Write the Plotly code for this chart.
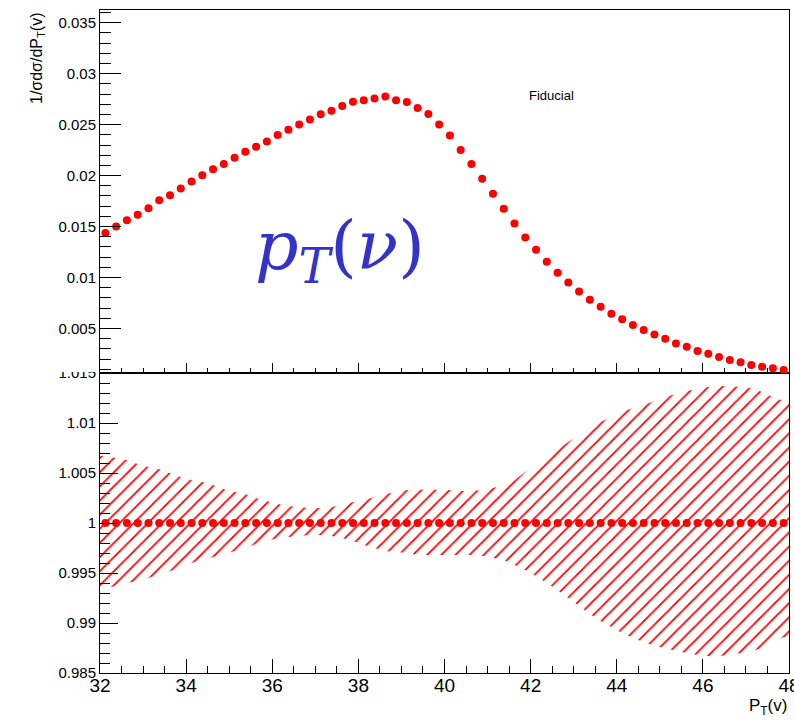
import numpy as np
import plotly.graph_objects as go

# ---- data ----
bin_lo, bin_hi, n_bins = 32.0, 48.0, 64
bin_width = (bin_hi - bin_lo) / n_bins
bin_centers = [bin_lo + bin_width * (i + 0.5) for i in range(n_bins)]

pt_values = [
    0.01436, 0.01500, 0.01562, 0.01617, 0.01679, 0.01757, 0.01806, 0.01874,
    0.01943, 0.02004, 0.02062, 0.02114, 0.02176, 0.02235, 0.02284, 0.02335,
    0.02397, 0.02449, 0.02501, 0.02550, 0.02601, 0.02637, 0.02683, 0.02725,
    0.02738, 0.02757, 0.02776, 0.02738, 0.02722, 0.02664, 0.02605, 0.02501,
    0.02392, 0.02250, 0.02114, 0.01968, 0.01822, 0.01675, 0.01529, 0.01393,
    0.01273, 0.01156, 0.01046, 0.00951, 0.00864, 0.00783, 0.00714, 0.00646,
    0.00591, 0.00535, 0.00486, 0.00442, 0.00399, 0.00354, 0.00321, 0.00279,
    0.00252, 0.00220, 0.00191, 0.00169, 0.00142, 0.00126, 0.00110, 0.00094,
]

ratio_values = [1.0] * n_bins

band_upper_err = [
    0.0067, 0.0065, 0.0063, 0.0059, 0.0056, 0.0054, 0.0050, 0.0046,
    0.0043, 0.0041, 0.0038, 0.0034, 0.0031, 0.0029, 0.0025, 0.0022,
    0.0019, 0.0017, 0.0016, 0.0015, 0.0015, 0.0016, 0.0018, 0.0021,
    0.0023, 0.0026, 0.0029, 0.0031, 0.0033, 0.0033, 0.0034, 0.0033,
    0.0033, 0.0032, 0.0032, 0.0033, 0.0035, 0.0038, 0.0043, 0.0051,
    0.0059, 0.0066, 0.0074, 0.0081, 0.0088, 0.0095, 0.0101, 0.0106,
    0.0111, 0.0115, 0.0118, 0.0122, 0.0126, 0.0129, 0.0132, 0.0134,
    0.0136, 0.0137, 0.0137, 0.0136, 0.0135, 0.0131, 0.0126, 0.0122,
]
band_lower_err = [
    0.0065, 0.0063, 0.0060, 0.0058, 0.0055, 0.0051, 0.0048, 0.0045,
    0.0040, 0.0037, 0.0034, 0.0031, 0.0028, 0.0025, 0.0021, 0.0018,
    0.0015, 0.0014, 0.0013, 0.0012, 0.0012, 0.0013, 0.0015, 0.0018,
    0.0022, 0.0025, 0.0028, 0.0029, 0.0030, 0.0032, 0.0032, 0.0032,
    0.0032, 0.0032, 0.0032, 0.0033, 0.0035, 0.0037, 0.0042, 0.0047,
    0.0053, 0.0060, 0.0067, 0.0075, 0.0083, 0.0091, 0.0098, 0.0104,
    0.0110, 0.0115, 0.0119, 0.0123, 0.0125, 0.0128, 0.0130, 0.0132,
    0.0133, 0.0133, 0.0132, 0.0130, 0.0128, 0.0125, 0.0120, 0.0114,
]

x_tick_vals = [32, 34, 36, 38, 40, 42, 44, 46, 48]
x_tick_text = ["32", "34", "36", "38", "40", "42", "44", "46", "48"]
top_y_tick_vals = [0.005, 0.01, 0.015, 0.02, 0.025, 0.03, 0.035]
top_y_tick_text = ["0.005", "0.01", "0.015", "0.02", "0.025", "0.03", "0.035"]
bot_y_tick_vals = [0.985, 0.99, 0.995, 1.0, 1.005, 1.01, 1.015]
bot_y_tick_text = ["0.985", "0.99", "0.995", "1", "1.005", "1.01", "1.015"]

# ---- derived ----
upper = [r + e for r, e in zip(ratio_values, band_upper_err)]
lower = [r - e for r, e in zip(ratio_values, band_lower_err)]
poly_x = [bin_lo] + bin_centers + [bin_hi, bin_hi] + bin_centers[::-1] + [bin_lo]
poly_y = [upper[0]] + upper + [upper[-1], lower[-1]] + lower[::-1] + [lower[0]]

x_minor = [v for v in np.arange(32, 48.001, 0.5) if abs(v / 2 - round(v / 2)) > 1e-6]
top_y_minor = [round(v, 4) for v in np.arange(0.001, 0.0362, 0.001)]
bot_y_minor = [round(v, 4) for v in np.arange(0.985, 1.0151, 0.001)]

RED = "#ff0000"
FONT = "Liberation Sans, Arial, Helvetica, sans-serif"

fig = go.Figure()

fig.add_trace(go.Scatter(
    x=bin_centers, y=pt_values, mode="markers",
    marker=dict(color=RED, size=8), xaxis="x2", yaxis="y2", hoverinfo="skip"))

fig.add_trace(go.Scatter(
    x=poly_x, y=poly_y, mode="lines", fill="toself",
    line=dict(width=0, color=RED), fillcolor="rgba(0,0,0,0)",
    fillpattern=dict(shape="/", size=10, solidity=0.18, fgcolor=RED, fgopacity=1,
                     bgcolor="rgba(0,0,0,0)", fillmode="overlay"),
    xaxis="x", yaxis="y", hoverinfo="skip"))

fig.add_trace(go.Scatter(
    x=bin_centers, y=ratio_values, mode="markers",
    marker=dict(color=RED, size=8), xaxis="x", yaxis="y", hoverinfo="skip"))

split = (673 - 373) / 663.0

axis_common = dict(showline=True, linecolor="black", linewidth=1, mirror=True,
                   showgrid=False, zeroline=False, ticks="inside", tickcolor="black",
                   tickwidth=1, automargin=False)

fig.update_layout(
    width=794, height=725,
    margin=dict(l=100, r=5, t=10, b=52, autoexpand=False),
    paper_bgcolor="white", plot_bgcolor="white",
    showlegend=False,
    font=dict(family=FONT, color="black"),
    xaxis=dict(domain=[0, 1], anchor="y", range=[32, 48],
               tickmode="array", tickvals=x_tick_vals, ticktext=x_tick_text,
               ticklen=14, tickfont=dict(size=19, family=FONT),
               ticklabeloverflow="allow", ticklabelstandoff=-5,
               minor=dict(tickmode="array", tickvals=x_minor, ticks="inside",
                          ticklen=7, tickcolor="black"),
               **axis_common),
    xaxis2=dict(domain=[0, 1], anchor="y2", matches="x", range=[32, 48],
                tickmode="array", tickvals=x_tick_vals, showticklabels=False,
                ticklen=10,
                minor=dict(tickmode="array", tickvals=x_minor, ticks="inside",
                           ticklen=5, tickcolor="black"),
                **axis_common),
    yaxis=dict(domain=[0, split], anchor="x", range=[0.985, 1.015],
               tickmode="array", tickvals=bot_y_tick_vals, ticktext=bot_y_tick_text,
               ticklen=18, tickfont=dict(size=15, family=FONT),
               ticklabeloverflow="allow",
               minor=dict(tickmode="array", tickvals=bot_y_minor, ticks="inside",
                          ticklen=10, tickcolor="black"),
               **axis_common),
    yaxis2=dict(domain=[split, 1], anchor="x2", range=[0.00064, 0.03624],
                tickmode="array", tickvals=top_y_tick_vals, ticktext=top_y_tick_text,
                ticklen=21, tickfont=dict(size=15, family=FONT),
                minor=dict(tickmode="array", tickvals=top_y_minor, ticks="inside",
                           ticklen=11, tickcolor="black"),
                **axis_common),
)

fig.add_shape(type="rect", xref="paper", yref="paper",
              x0=-0.14, x1=-0.004, y0=(673 - 372) / 663.0, y1=(673 - 358) / 663.0,
              fillcolor="white", line=dict(width=0), layer="above")

fig.add_annotation(text="1/σdσ/dP<sub>T</sub>(v)", textangle=-90,
                   xref="paper", yref="paper", x=(37 - 100) / 689.0, y=1.0,
                   xanchor="center", yanchor="top", showarrow=False,
                   font=dict(size=16, family=FONT, color="black"))
fig.add_annotation(text="P<sub>T</sub>(v)",
                   xref="paper", yref="paper", x=1.0, y=(673 - 707) / 663.0,
                   xanchor="right", yanchor="middle", showarrow=False,
                   font=dict(size=17, family=FONT, color="black"))
fig.add_annotation(text="Fiducial",
                   xref="paper", yref="paper", x=(551 - 100) / 689.0, y=(673 - 96) / 663.0,
                   xanchor="center", yanchor="middle", showarrow=False,
                   font=dict(size=13, family=FONT, color="black"))
fig.add_annotation(text="<i>p</i><sub><i>T</i></sub>(<i>ν</i>)",
                   xref="paper", yref="paper", x=(340 - 100) / 689.0, y=(673 - 250) / 663.0,
                   xanchor="center", yanchor="middle", showarrow=False,
                   font=dict(size=68, family="DejaVu Serif, serif", color="#3333cc"))

fig.write_html("out.html")
